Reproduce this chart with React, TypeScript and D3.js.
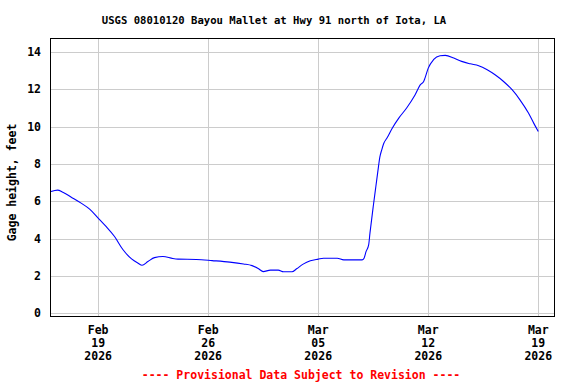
import React from "react";
import * as d3 from "d3";

const times = [
  "2026-02-16T00:00", "2026-02-16T10:00", "2026-02-16T18:00", "2026-02-17T07:00",
  "2026-02-17T22:00", "2026-02-18T11:00", "2026-02-19T00:00", "2026-02-19T12:00",
  "2026-02-20T01:00", "2026-02-20T14:00", "2026-02-21T03:00", "2026-02-21T13:00",
  "2026-02-21T19:00", "2026-02-22T04:00", "2026-02-22T14:00", "2026-02-23T03:00",
  "2026-02-23T18:00", "2026-02-24T02:00", "2026-02-25T06:00", "2026-02-26T06:00",
  "2026-02-27T09:00", "2026-02-28T06:00", "2026-02-28T19:00", "2026-03-01T05:00",
  "2026-03-01T12:00", "2026-03-01T23:00", "2026-03-02T11:00", "2026-03-02T19:00",
  "2026-03-03T08:00", "2026-03-03T15:00", "2026-03-04T01:00", "2026-03-04T12:00",
  "2026-03-05T00:00", "2026-03-05T08:00", "2026-03-06T05:00", "2026-03-06T15:00",
  "2026-03-07T19:00", "2026-03-07T22:00", "2026-03-08T01:00", "2026-03-08T05:00",
  "2026-03-08T07:00", "2026-03-08T12:00", "2026-03-08T16:00", "2026-03-08T20:00",
  "2026-03-08T22:00", "2026-03-09T01:00", "2026-03-09T04:00", "2026-03-09T09:00",
  "2026-03-09T17:00", "2026-03-10T03:00",
  "2026-03-10T15:00", "2026-03-11T04:00", "2026-03-11T12:00", "2026-03-11T17:00",
  "2026-03-11T19:00", "2026-03-12T00:00", "2026-03-12T08:00", "2026-03-12T18:00",
  "2026-03-13T02:00", "2026-03-13T15:00", "2026-03-14T03:00", "2026-03-14T16:00",
  "2026-03-15T05:00", "2026-03-15T18:00", "2026-03-16T06:00", "2026-03-16T19:00",
  "2026-03-17T08:00", "2026-03-17T20:00", "2026-03-18T09:00", "2026-03-18T17:00",
  "2026-03-19T00:00",
];

const gageHeight = [
  6.52, 6.60, 6.49, 6.22,
  5.90, 5.58, 5.10, 4.65,
  4.11, 3.40, 2.91, 2.68,
  2.57, 2.77, 2.98, 3.04,
  2.93, 2.90, 2.88, 2.82,
  2.74, 2.64, 2.55, 2.38,
  2.23, 2.31, 2.31, 2.22,
  2.22, 2.38, 2.63, 2.81,
  2.90, 2.95, 2.95, 2.86,
  2.86, 2.95, 3.30, 3.66,
  4.29, 5.72, 6.79, 7.86,
  8.35, 8.76, 9.10, 9.39,
  9.92, 10.46,
  11.00, 11.71, 12.25, 12.42,
  12.60, 13.14, 13.59, 13.80,
  13.82, 13.68, 13.50, 13.37,
  13.27, 13.05, 12.78, 12.42,
  11.98, 11.44, 10.73, 10.19,
  9.74,
];

const xTickDates = ["2026-02-19", "2026-02-26", "2026-03-05", "2026-03-12", "2026-03-19"];
const yTickValues = [0, 2, 4, 6, 8, 10, 12, 14];

const title = "USGS 08010120 Bayou Mallet at Hwy 91 north of Iota, LA";
const yTitle = "Gage height, feet";
const footer = "---- Provisional Data Subject to Revision ----";

const W = 576;
const H = 384;
const margin = { left: 51, right: 22, top: 39, bottom: 68 };
const font = "'DejaVu Sans Mono', 'Liberation Mono', monospace";

export default function App() {
  const parse = d3.utcParse("%Y-%m-%dT%H:%M");
  const parseDay = d3.utcParse("%Y-%m-%d");
  const data = times.map((t, i) => ({ t: parse(t) as Date, v: gageHeight[i] }));

  const x = d3
    .scaleUtc()
    .domain([parseDay("2026-02-16") as Date, parseDay("2026-03-20") as Date])
    .range([margin.left, W - margin.right]);
  const y = d3
    .scaleLinear()
    .domain([-0.15, 14.7])
    .range([H - margin.bottom, margin.top]);

  const line = d3
    .line<{ t: Date; v: number }>()
    .x((d) => x(d.t))
    .y((d) => y(d.v))
    .curve(d3.curveMonotoneX);

  const px = (v: number) => Math.round(v) + 0.5;
  const x0 = margin.left;
  const x1 = W - margin.right;
  const y0 = margin.top;
  const y1 = H - margin.bottom;

  const fmtMon = d3.utcFormat("%b");
  const fmtDay = d3.utcFormat("%d");
  const fmtYear = d3.utcFormat("%Y");

  return (
    <svg
      width={W}
      height={H}
      style={{ position: "absolute", left: 0, top: 0, background: "#fff" }}
      fontFamily={font}
      fontWeight="bold"
    >
      <rect x={0} y={0} width={W} height={H} fill="#fff" />
      <text x={274} y={20} dy="0.35em" textAnchor="middle" fontSize={10.6}>
        {title}
      </text>

      {/* grid */}
      <g stroke="#cccccc" strokeWidth={1} shapeRendering="crispEdges">
        {yTickValues.map((v) => (
          <line key={"gy" + v} x1={x0} x2={x1} y1={px(y(v))} y2={px(y(v))} />
        ))}
        {xTickDates.map((d) => {
          const xx = px(x(parseDay(d) as Date));
          return <line key={"gx" + d} x1={xx} x2={xx} y1={y0} y2={y1} />;
        })}
      </g>

      <path
        d={line(data) || ""}
        fill="none"
        stroke="#0000ff"
        strokeWidth={1.1}
      />

      <rect
        x={px(x0) - 1}
        y={px(y0) - 1}
        width={px(x1) - px(x0) + 1}
        height={px(y1) - px(y0) + 1}
        fill="none"
        stroke="#000"
        strokeWidth={1}
        shapeRendering="crispEdges"
      />

      {/* y tick labels */}
      <g fontSize={11.5} textAnchor="end">
        {yTickValues.map((v) => (
          <text key={"ty" + v} x={41} y={y(v)} dy="0.35em">
            {v}
          </text>
        ))}
      </g>

      {/* x tick labels */}
      <g fontSize={11.5} textAnchor="middle">
        {xTickDates.map((d) => {
          const dt = parseDay(d) as Date;
          const xx = x(dt);
          return (
            <g key={"tx" + d}>
              <text x={xx} y={330} dy="0.35em">{fmtMon(dt)}</text>
              <text x={xx} y={343} dy="0.35em">{fmtDay(dt)}</text>
              <text x={xx} y={356} dy="0.35em">{fmtYear(dt)}</text>
            </g>
          );
        })}
      </g>

      <text
        transform={`translate(12,${(y0 + y1) / 2 + 5}) rotate(-90)`}
        dy="0.35em"
        textAnchor="middle"
        fontSize={11.5}
      >
        {yTitle}
      </text>

      <text x={301} y={375} dy="0.35em" textAnchor="middle" fontSize={11.5} fill="#ff0000">
        {footer}
      </text>
    </svg>
  );
}
